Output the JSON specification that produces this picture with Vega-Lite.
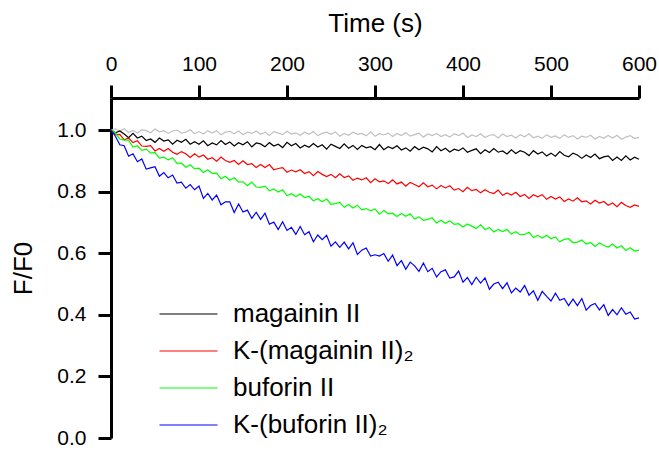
{
"$schema": "https://vega.github.io/schema/vega-lite/v6.json",
"width": 528, "height": 340,
"autosize": {"type": "none"},
"padding": {"left": 111, "top": 98, "right": 20, "bottom": 12},
"background": "white",
"config": {
  "view": {"stroke": null},
  "font": "Liberation Sans",
  "axis": {"grid": false, "domainColor": "black", "tickColor": "black", "labelColor": "black", "titleColor": "black", "labelFontSize": 21, "titleFontSize": 26, "titleFontWeight": "normal", "domainWidth": 3, "tickWidth": 3, "labelFont": "Liberation Sans", "titleFont": "Liberation Sans", "labelFlush": false}
},
"data": {"values": [
{"t":0,"s":"g","v":1.000},{"t":5,"s":"g","v":1.004},{"t":10,"s":"g","v":0.996},{"t":15,"s":"g","v":1.004},{"t":20,"s":"g","v":0.992},{"t":25,"s":"g","v":0.999},{"t":30,"s":"g","v":0.990},{"t":35,"s":"g","v":1.001},{"t":40,"s":"g","v":0.998},{"t":45,"s":"g","v":0.991},
{"t":50,"s":"g","v":1.003},{"t":55,"s":"g","v":0.994},{"t":60,"s":"g","v":0.998},{"t":65,"s":"g","v":0.989},{"t":70,"s":"g","v":0.997},{"t":75,"s":"g","v":1.000},{"t":80,"s":"g","v":0.990},{"t":85,"s":"g","v":0.993},{"t":90,"s":"g","v":1.001},{"t":95,"s":"g","v":0.988},
{"t":100,"s":"g","v":0.995},{"t":105,"s":"g","v":0.987},{"t":110,"s":"g","v":0.998},{"t":115,"s":"g","v":0.990},{"t":120,"s":"g","v":0.998},{"t":125,"s":"g","v":0.985},{"t":130,"s":"g","v":0.993},{"t":135,"s":"g","v":0.996},{"t":140,"s":"g","v":0.988},{"t":145,"s":"g","v":0.997},
{"t":150,"s":"g","v":0.985},{"t":155,"s":"g","v":0.993},{"t":160,"s":"g","v":0.989},{"t":165,"s":"g","v":0.997},{"t":170,"s":"g","v":0.986},{"t":175,"s":"g","v":0.993},{"t":180,"s":"g","v":0.982},{"t":185,"s":"g","v":0.995},{"t":190,"s":"g","v":0.990},{"t":195,"s":"g","v":0.985},
{"t":200,"s":"g","v":0.996},{"t":205,"s":"g","v":0.987},{"t":210,"s":"g","v":0.991},{"t":215,"s":"g","v":0.983},{"t":220,"s":"g","v":0.993},{"t":225,"s":"g","v":0.986},{"t":230,"s":"g","v":0.995},{"t":235,"s":"g","v":0.982},{"t":240,"s":"g","v":0.989},{"t":245,"s":"g","v":0.993},
{"t":250,"s":"g","v":0.986},{"t":255,"s":"g","v":0.994},{"t":260,"s":"g","v":0.980},{"t":265,"s":"g","v":0.989},{"t":270,"s":"g","v":0.983},{"t":275,"s":"g","v":0.993},{"t":280,"s":"g","v":0.986},{"t":285,"s":"g","v":0.989},{"t":290,"s":"g","v":0.981},{"t":295,"s":"g","v":0.994},
{"t":300,"s":"g","v":0.980},{"t":305,"s":"g","v":0.988},{"t":310,"s":"g","v":0.984},{"t":315,"s":"g","v":0.990},{"t":320,"s":"g","v":0.979},{"t":325,"s":"g","v":0.989},{"t":330,"s":"g","v":0.982},{"t":335,"s":"g","v":0.992},{"t":340,"s":"g","v":0.980},{"t":345,"s":"g","v":0.985},
{"t":350,"s":"g","v":0.990},{"t":355,"s":"g","v":0.977},{"t":360,"s":"g","v":0.987},{"t":365,"s":"g","v":0.982},{"t":370,"s":"g","v":0.989},{"t":375,"s":"g","v":0.979},{"t":380,"s":"g","v":0.985},{"t":385,"s":"g","v":0.977},{"t":390,"s":"g","v":0.988},{"t":395,"s":"g","v":0.982},
{"t":400,"s":"g","v":0.990},{"t":405,"s":"g","v":0.976},{"t":410,"s":"g","v":0.984},{"t":415,"s":"g","v":0.979},{"t":420,"s":"g","v":0.988},{"t":425,"s":"g","v":0.976},{"t":430,"s":"g","v":0.983},{"t":435,"s":"g","v":0.985},{"t":440,"s":"g","v":0.974},{"t":445,"s":"g","v":0.987},
{"t":450,"s":"g","v":0.979},{"t":455,"s":"g","v":0.983},{"t":460,"s":"g","v":0.974},{"t":465,"s":"g","v":0.985},{"t":470,"s":"g","v":0.978},{"t":475,"s":"g","v":0.988},{"t":480,"s":"g","v":0.975},{"t":485,"s":"g","v":0.980},{"t":490,"s":"g","v":0.973},{"t":495,"s":"g","v":0.985},
{"t":500,"s":"g","v":0.976},{"t":505,"s":"g","v":0.981},{"t":510,"s":"g","v":0.973},{"t":515,"s":"g","v":0.985},{"t":520,"s":"g","v":0.976},{"t":525,"s":"g","v":0.982},{"t":530,"s":"g","v":0.971},{"t":535,"s":"g","v":0.980},{"t":540,"s":"g","v":0.976},{"t":545,"s":"g","v":0.983},
{"t":550,"s":"g","v":0.971},{"t":555,"s":"g","v":0.979},{"t":560,"s":"g","v":0.973},{"t":565,"s":"g","v":0.982},{"t":570,"s":"g","v":0.974},{"t":575,"s":"g","v":0.983},{"t":580,"s":"g","v":0.970},{"t":585,"s":"g","v":0.977},{"t":590,"s":"g","v":0.982},{"t":595,"s":"g","v":0.973},
{"t":600,"s":"g","v":0.976},
{"t":0,"s":"m","v":1.000},{"t":5,"s":"m","v":0.991},{"t":10,"s":"m","v":0.997},{"t":15,"s":"m","v":0.987},{"t":20,"s":"m","v":0.975},{"t":25,"s":"m","v":0.989},{"t":30,"s":"m","v":0.974},{"t":35,"s":"m","v":0.980},{"t":40,"s":"m","v":0.966},{"t":45,"s":"m","v":0.971},
{"t":50,"s":"m","v":0.960},{"t":55,"s":"m","v":0.974},{"t":60,"s":"m","v":0.964},{"t":65,"s":"m","v":0.968},{"t":70,"s":"m","v":0.954},{"t":75,"s":"m","v":0.967},{"t":80,"s":"m","v":0.960},{"t":85,"s":"m","v":0.970},{"t":90,"s":"m","v":0.954},{"t":95,"s":"m","v":0.962},
{"t":100,"s":"m","v":0.954},{"t":105,"s":"m","v":0.965},{"t":110,"s":"m","v":0.949},{"t":115,"s":"m","v":0.958},{"t":120,"s":"m","v":0.952},{"t":125,"s":"m","v":0.966},{"t":130,"s":"m","v":0.953},{"t":135,"s":"m","v":0.961},{"t":140,"s":"m","v":0.948},{"t":145,"s":"m","v":0.959},
{"t":150,"s":"m","v":0.952},{"t":155,"s":"m","v":0.962},{"t":160,"s":"m","v":0.945},{"t":165,"s":"m","v":0.958},{"t":170,"s":"m","v":0.955},{"t":175,"s":"m","v":0.946},{"t":180,"s":"m","v":0.959},{"t":185,"s":"m","v":0.948},{"t":190,"s":"m","v":0.954},{"t":195,"s":"m","v":0.943},
{"t":200,"s":"m","v":0.960},{"t":205,"s":"m","v":0.949},{"t":210,"s":"m","v":0.956},{"t":215,"s":"m","v":0.942},{"t":220,"s":"m","v":0.951},{"t":225,"s":"m","v":0.944},{"t":230,"s":"m","v":0.956},{"t":235,"s":"m","v":0.945},{"t":240,"s":"m","v":0.952},{"t":245,"s":"m","v":0.938},
{"t":250,"s":"m","v":0.954},{"t":255,"s":"m","v":0.947},{"t":260,"s":"m","v":0.940},{"t":265,"s":"m","v":0.955},{"t":270,"s":"m","v":0.941},{"t":275,"s":"m","v":0.950},{"t":280,"s":"m","v":0.937},{"t":285,"s":"m","v":0.950},{"t":290,"s":"m","v":0.942},{"t":295,"s":"m","v":0.946},
{"t":300,"s":"m","v":0.936},{"t":305,"s":"m","v":0.953},{"t":310,"s":"m","v":0.936},{"t":315,"s":"m","v":0.946},{"t":320,"s":"m","v":0.940},{"t":325,"s":"m","v":0.949},{"t":330,"s":"m","v":0.935},{"t":335,"s":"m","v":0.942},{"t":340,"s":"m","v":0.931},{"t":345,"s":"m","v":0.946},
{"t":350,"s":"m","v":0.936},{"t":355,"s":"m","v":0.944},{"t":360,"s":"m","v":0.939},{"t":365,"s":"m","v":0.929},{"t":370,"s":"m","v":0.946},{"t":375,"s":"m","v":0.933},{"t":380,"s":"m","v":0.941},{"t":385,"s":"m","v":0.929},{"t":390,"s":"m","v":0.938},{"t":395,"s":"m","v":0.933},
{"t":400,"s":"m","v":0.942},{"t":405,"s":"m","v":0.928},{"t":410,"s":"m","v":0.934},{"t":415,"s":"m","v":0.939},{"t":420,"s":"m","v":0.923},{"t":425,"s":"m","v":0.936},{"t":430,"s":"m","v":0.927},{"t":435,"s":"m","v":0.940},{"t":440,"s":"m","v":0.928},{"t":445,"s":"m","v":0.932},
{"t":450,"s":"m","v":0.922},{"t":455,"s":"m","v":0.936},{"t":460,"s":"m","v":0.924},{"t":465,"s":"m","v":0.933},{"t":470,"s":"m","v":0.928},{"t":475,"s":"m","v":0.917},{"t":480,"s":"m","v":0.933},{"t":485,"s":"m","v":0.922},{"t":490,"s":"m","v":0.929},{"t":495,"s":"m","v":0.916},
{"t":500,"s":"m","v":0.925},{"t":505,"s":"m","v":0.915},{"t":510,"s":"m","v":0.930},{"t":515,"s":"m","v":0.918},{"t":520,"s":"m","v":0.913},{"t":525,"s":"m","v":0.925},{"t":530,"s":"m","v":0.919},{"t":535,"s":"m","v":0.908},{"t":540,"s":"m","v":0.919},{"t":545,"s":"m","v":0.911},
{"t":550,"s":"m","v":0.922},{"t":555,"s":"m","v":0.907},{"t":560,"s":"m","v":0.913},{"t":565,"s":"m","v":0.916},{"t":570,"s":"m","v":0.901},{"t":575,"s":"m","v":0.912},{"t":580,"s":"m","v":0.901},{"t":585,"s":"m","v":0.916},{"t":590,"s":"m","v":0.903},{"t":595,"s":"m","v":0.912},
{"t":600,"s":"m","v":0.905},
{"t":0,"s":"km","v":1.000},{"t":5,"s":"km","v":0.985},{"t":10,"s":"km","v":0.986},{"t":15,"s":"km","v":0.968},{"t":20,"s":"km","v":0.974},{"t":25,"s":"km","v":0.959},{"t":30,"s":"km","v":0.965},{"t":35,"s":"km","v":0.948},{"t":40,"s":"km","v":0.947},{"t":45,"s":"km","v":0.949},
{"t":50,"s":"km","v":0.932},{"t":55,"s":"km","v":0.940},{"t":60,"s":"km","v":0.931},{"t":65,"s":"km","v":0.940},{"t":70,"s":"km","v":0.928},{"t":75,"s":"km","v":0.921},{"t":80,"s":"km","v":0.930},{"t":85,"s":"km","v":0.923},{"t":90,"s":"km","v":0.911},{"t":95,"s":"km","v":0.923},
{"t":100,"s":"km","v":0.912},{"t":105,"s":"km","v":0.919},{"t":110,"s":"km","v":0.905},{"t":115,"s":"km","v":0.910},{"t":120,"s":"km","v":0.899},{"t":125,"s":"km","v":0.912},{"t":130,"s":"km","v":0.901},{"t":135,"s":"km","v":0.895},{"t":140,"s":"km","v":0.901},{"t":145,"s":"km","v":0.888},
{"t":150,"s":"km","v":0.900},{"t":155,"s":"km","v":0.888},{"t":160,"s":"km","v":0.891},{"t":165,"s":"km","v":0.878},{"t":170,"s":"km","v":0.888},{"t":175,"s":"km","v":0.878},{"t":180,"s":"km","v":0.888},{"t":185,"s":"km","v":0.871},{"t":190,"s":"km","v":0.875},{"t":195,"s":"km","v":0.878},
{"t":200,"s":"km","v":0.863},{"t":205,"s":"km","v":0.870},{"t":210,"s":"km","v":0.864},{"t":215,"s":"km","v":0.871},{"t":220,"s":"km","v":0.859},{"t":225,"s":"km","v":0.865},{"t":230,"s":"km","v":0.852},{"t":235,"s":"km","v":0.865},{"t":240,"s":"km","v":0.856},{"t":245,"s":"km","v":0.849},
{"t":250,"s":"km","v":0.856},{"t":255,"s":"km","v":0.845},{"t":260,"s":"km","v":0.858},{"t":265,"s":"km","v":0.846},{"t":270,"s":"km","v":0.851},{"t":275,"s":"km","v":0.837},{"t":280,"s":"km","v":0.844},{"t":285,"s":"km","v":0.838},{"t":290,"s":"km","v":0.845},{"t":295,"s":"km","v":0.829},
{"t":300,"s":"km","v":0.842},{"t":305,"s":"km","v":0.832},{"t":310,"s":"km","v":0.835},{"t":315,"s":"km","v":0.826},{"t":320,"s":"km","v":0.838},{"t":325,"s":"km","v":0.825},{"t":330,"s":"km","v":0.831},{"t":335,"s":"km","v":0.818},{"t":340,"s":"km","v":0.830},{"t":345,"s":"km","v":0.823},
{"t":350,"s":"km","v":0.816},{"t":355,"s":"km","v":0.829},{"t":360,"s":"km","v":0.816},{"t":365,"s":"km","v":0.821},{"t":370,"s":"km","v":0.809},{"t":375,"s":"km","v":0.820},{"t":380,"s":"km","v":0.812},{"t":385,"s":"km","v":0.819},{"t":390,"s":"km","v":0.805},{"t":395,"s":"km","v":0.810},
{"t":400,"s":"km","v":0.800},{"t":405,"s":"km","v":0.814},{"t":410,"s":"km","v":0.803},{"t":415,"s":"km","v":0.807},{"t":420,"s":"km","v":0.796},{"t":425,"s":"km","v":0.806},{"t":430,"s":"km","v":0.798},{"t":435,"s":"km","v":0.794},{"t":440,"s":"km","v":0.805},{"t":445,"s":"km","v":0.788},
{"t":450,"s":"km","v":0.796},{"t":455,"s":"km","v":0.789},{"t":460,"s":"km","v":0.798},{"t":465,"s":"km","v":0.784},{"t":470,"s":"km","v":0.791},{"t":475,"s":"km","v":0.778},{"t":480,"s":"km","v":0.790},{"t":485,"s":"km","v":0.783},{"t":490,"s":"km","v":0.790},{"t":495,"s":"km","v":0.775},
{"t":500,"s":"km","v":0.784},{"t":505,"s":"km","v":0.776},{"t":510,"s":"km","v":0.783},{"t":515,"s":"km","v":0.768},{"t":520,"s":"km","v":0.776},{"t":525,"s":"km","v":0.769},{"t":530,"s":"km","v":0.780},{"t":535,"s":"km","v":0.767},{"t":540,"s":"km","v":0.770},{"t":545,"s":"km","v":0.760},
{"t":550,"s":"km","v":0.772},{"t":555,"s":"km","v":0.763},{"t":560,"s":"km","v":0.768},{"t":565,"s":"km","v":0.756},{"t":570,"s":"km","v":0.763},{"t":575,"s":"km","v":0.751},{"t":580,"s":"km","v":0.765},{"t":585,"s":"km","v":0.755},{"t":590,"s":"km","v":0.749},{"t":595,"s":"km","v":0.757},
{"t":600,"s":"km","v":0.752},
{"t":0,"s":"b","v":1.000},{"t":5,"s":"b","v":0.991},{"t":10,"s":"b","v":0.971},{"t":15,"s":"b","v":0.967},{"t":20,"s":"b","v":0.967},{"t":25,"s":"b","v":0.945},{"t":30,"s":"b","v":0.949},{"t":35,"s":"b","v":0.934},{"t":40,"s":"b","v":0.938},{"t":45,"s":"b","v":0.925},
{"t":50,"s":"b","v":0.927},{"t":55,"s":"b","v":0.909},{"t":60,"s":"b","v":0.912},{"t":65,"s":"b","v":0.903},{"t":70,"s":"b","v":0.910},{"t":75,"s":"b","v":0.892},{"t":80,"s":"b","v":0.893},{"t":85,"s":"b","v":0.879},{"t":90,"s":"b","v":0.887},{"t":95,"s":"b","v":0.874},
{"t":100,"s":"b","v":0.876},{"t":105,"s":"b","v":0.862},{"t":110,"s":"b","v":0.871},{"t":115,"s":"b","v":0.859},{"t":120,"s":"b","v":0.860},{"t":125,"s":"b","v":0.842},{"t":130,"s":"b","v":0.850},{"t":135,"s":"b","v":0.837},{"t":140,"s":"b","v":0.845},{"t":145,"s":"b","v":0.831},
{"t":150,"s":"b","v":0.832},{"t":155,"s":"b","v":0.819},{"t":160,"s":"b","v":0.831},{"t":165,"s":"b","v":0.815},{"t":170,"s":"b","v":0.814},{"t":175,"s":"b","v":0.818},{"t":180,"s":"b","v":0.803},{"t":185,"s":"b","v":0.809},{"t":190,"s":"b","v":0.799},{"t":195,"s":"b","v":0.806},
{"t":200,"s":"b","v":0.787},{"t":205,"s":"b","v":0.793},{"t":210,"s":"b","v":0.784},{"t":215,"s":"b","v":0.792},{"t":220,"s":"b","v":0.781},{"t":225,"s":"b","v":0.785},{"t":230,"s":"b","v":0.770},{"t":235,"s":"b","v":0.777},{"t":240,"s":"b","v":0.767},{"t":245,"s":"b","v":0.776},
{"t":250,"s":"b","v":0.759},{"t":255,"s":"b","v":0.761},{"t":260,"s":"b","v":0.765},{"t":265,"s":"b","v":0.749},{"t":270,"s":"b","v":0.758},{"t":275,"s":"b","v":0.747},{"t":280,"s":"b","v":0.756},{"t":285,"s":"b","v":0.741},{"t":290,"s":"b","v":0.745},{"t":295,"s":"b","v":0.738},
{"t":300,"s":"b","v":0.744},{"t":305,"s":"b","v":0.727},{"t":310,"s":"b","v":0.739},{"t":315,"s":"b","v":0.728},{"t":320,"s":"b","v":0.730},{"t":325,"s":"b","v":0.719},{"t":330,"s":"b","v":0.729},{"t":335,"s":"b","v":0.720},{"t":340,"s":"b","v":0.728},{"t":345,"s":"b","v":0.711},
{"t":350,"s":"b","v":0.718},{"t":355,"s":"b","v":0.707},{"t":360,"s":"b","v":0.710},{"t":365,"s":"b","v":0.715},{"t":370,"s":"b","v":0.698},{"t":375,"s":"b","v":0.707},{"t":380,"s":"b","v":0.697},{"t":385,"s":"b","v":0.705},{"t":390,"s":"b","v":0.694},{"t":395,"s":"b","v":0.696},
{"t":400,"s":"b","v":0.685},{"t":405,"s":"b","v":0.695},{"t":410,"s":"b","v":0.688},{"t":415,"s":"b","v":0.680},{"t":420,"s":"b","v":0.692},{"t":425,"s":"b","v":0.677},{"t":430,"s":"b","v":0.683},{"t":435,"s":"b","v":0.669},{"t":440,"s":"b","v":0.677},{"t":445,"s":"b","v":0.670},
{"t":450,"s":"b","v":0.677},{"t":455,"s":"b","v":0.662},{"t":460,"s":"b","v":0.670},{"t":465,"s":"b","v":0.660},{"t":470,"s":"b","v":0.661},{"t":475,"s":"b","v":0.668},{"t":480,"s":"b","v":0.651},{"t":485,"s":"b","v":0.658},{"t":490,"s":"b","v":0.649},{"t":495,"s":"b","v":0.658},
{"t":500,"s":"b","v":0.647},{"t":505,"s":"b","v":0.653},{"t":510,"s":"b","v":0.637},{"t":515,"s":"b","v":0.645},{"t":520,"s":"b","v":0.647},{"t":525,"s":"b","v":0.634},{"t":530,"s":"b","v":0.636},{"t":535,"s":"b","v":0.643},{"t":540,"s":"b","v":0.630},{"t":545,"s":"b","v":0.635},
{"t":550,"s":"b","v":0.622},{"t":555,"s":"b","v":0.633},{"t":560,"s":"b","v":0.625},{"t":565,"s":"b","v":0.620},{"t":570,"s":"b","v":0.630},{"t":575,"s":"b","v":0.617},{"t":580,"s":"b","v":0.624},{"t":585,"s":"b","v":0.609},{"t":590,"s":"b","v":0.618},{"t":595,"s":"b","v":0.607},
{"t":600,"s":"b","v":0.610},
{"t":0,"s":"kb","v":1.000},{"t":5,"s":"kb","v":0.980},{"t":10,"s":"kb","v":0.952},{"t":15,"s":"kb","v":0.949},{"t":20,"s":"kb","v":0.915},{"t":25,"s":"kb","v":0.923},{"t":30,"s":"kb","v":0.897},{"t":35,"s":"kb","v":0.906},{"t":40,"s":"kb","v":0.873},{"t":45,"s":"kb","v":0.877},
{"t":50,"s":"kb","v":0.881},{"t":55,"s":"kb","v":0.850},{"t":60,"s":"kb","v":0.862},{"t":65,"s":"kb","v":0.845},{"t":70,"s":"kb","v":0.854},{"t":75,"s":"kb","v":0.828},{"t":80,"s":"kb","v":0.831},{"t":85,"s":"kb","v":0.811},{"t":90,"s":"kb","v":0.823},{"t":95,"s":"kb","v":0.806},
{"t":100,"s":"kb","v":0.818},{"t":105,"s":"kb","v":0.778},{"t":110,"s":"kb","v":0.794},{"t":115,"s":"kb","v":0.773},{"t":120,"s":"kb","v":0.789},{"t":125,"s":"kb","v":0.757},{"t":130,"s":"kb","v":0.767},{"t":135,"s":"kb","v":0.767},{"t":140,"s":"kb","v":0.732},{"t":145,"s":"kb","v":0.760},
{"t":150,"s":"kb","v":0.734},{"t":155,"s":"kb","v":0.740},{"t":160,"s":"kb","v":0.713},{"t":165,"s":"kb","v":0.733},{"t":170,"s":"kb","v":0.710},{"t":175,"s":"kb","v":0.730},{"t":180,"s":"kb","v":0.694},{"t":185,"s":"kb","v":0.701},{"t":190,"s":"kb","v":0.677},{"t":195,"s":"kb","v":0.702},
{"t":200,"s":"kb","v":0.674},{"t":205,"s":"kb","v":0.684},{"t":210,"s":"kb","v":0.661},{"t":215,"s":"kb","v":0.687},{"t":220,"s":"kb","v":0.660},{"t":225,"s":"kb","v":0.670},{"t":230,"s":"kb","v":0.637},{"t":235,"s":"kb","v":0.659},{"t":240,"s":"kb","v":0.644},{"t":245,"s":"kb","v":0.658},
{"t":250,"s":"kb","v":0.623},{"t":255,"s":"kb","v":0.637},{"t":260,"s":"kb","v":0.619},{"t":265,"s":"kb","v":0.636},{"t":270,"s":"kb","v":0.614},{"t":275,"s":"kb","v":0.634},{"t":280,"s":"kb","v":0.596},{"t":285,"s":"kb","v":0.610},{"t":290,"s":"kb","v":0.617},{"t":295,"s":"kb","v":0.591},
{"t":300,"s":"kb","v":0.595},{"t":305,"s":"kb","v":0.591},{"t":310,"s":"kb","v":0.599},{"t":315,"s":"kb","v":0.574},{"t":320,"s":"kb","v":0.594},{"t":325,"s":"kb","v":0.560},{"t":330,"s":"kb","v":0.576},{"t":335,"s":"kb","v":0.548},{"t":340,"s":"kb","v":0.571},{"t":345,"s":"kb","v":0.559},
{"t":350,"s":"kb","v":0.541},{"t":355,"s":"kb","v":0.568},{"t":360,"s":"kb","v":0.540},{"t":365,"s":"kb","v":0.551},{"t":370,"s":"kb","v":0.523},{"t":375,"s":"kb","v":0.540},{"t":380,"s":"kb","v":0.546},{"t":385,"s":"kb","v":0.519},{"t":390,"s":"kb","v":0.523},{"t":395,"s":"kb","v":0.542},
{"t":400,"s":"kb","v":0.506},{"t":405,"s":"kb","v":0.521},{"t":410,"s":"kb","v":0.498},{"t":415,"s":"kb","v":0.522},{"t":420,"s":"kb","v":0.503},{"t":425,"s":"kb","v":0.520},{"t":430,"s":"kb","v":0.483},{"t":435,"s":"kb","v":0.500},{"t":440,"s":"kb","v":0.506},{"t":445,"s":"kb","v":0.485},
{"t":450,"s":"kb","v":0.504},{"t":455,"s":"kb","v":0.471},{"t":460,"s":"kb","v":0.487},{"t":465,"s":"kb","v":0.474},{"t":470,"s":"kb","v":0.495},{"t":475,"s":"kb","v":0.464},{"t":480,"s":"kb","v":0.478},{"t":485,"s":"kb","v":0.447},{"t":490,"s":"kb","v":0.476},{"t":495,"s":"kb","v":0.460},
{"t":500,"s":"kb","v":0.445},{"t":505,"s":"kb","v":0.470},{"t":510,"s":"kb","v":0.447},{"t":515,"s":"kb","v":0.453},{"t":520,"s":"kb","v":0.430},{"t":525,"s":"kb","v":0.451},{"t":530,"s":"kb","v":0.430},{"t":535,"s":"kb","v":0.453},{"t":540,"s":"kb","v":0.415},{"t":545,"s":"kb","v":0.430},
{"t":550,"s":"kb","v":0.437},{"t":555,"s":"kb","v":0.416},{"t":560,"s":"kb","v":0.433},{"t":565,"s":"kb","v":0.398},{"t":570,"s":"kb","v":0.417},{"t":575,"s":"kb","v":0.400},{"t":580,"s":"kb","v":0.423},{"t":585,"s":"kb","v":0.402},{"t":590,"s":"kb","v":0.409},{"t":595,"s":"kb","v":0.386},
{"t":600,"s":"kb","v":0.390}
]},
"layer": [
  {
    "transform": [{"filter": "datum.s === 'g'"}],
    "mark": {"type": "line", "strokeWidth": 1.2, "color": "#c0c0c0"},
    "encoding": {
      "x": {"field": "t", "type": "quantitative", "scale": {"domain": [0, 600], "nice": false}, "axis": {"orient": "top", "title": "Time (s)", "values": [0, 100, 200, 300, 400, 500, 600], "tickSize": 13, "labelPadding": 11, "titlePadding": 17}},
      "y": {"field": "v", "type": "quantitative", "scale": {"domain": [0, 1.104], "nice": false, "zero": false}, "axis": {"title": "F/F0", "values": [0, 0.2, 0.4, 0.6, 0.8, 1.0], "format": ".1f", "tickSize": 13, "labelPadding": 12, "titlePadding": 20}}
    }
  },
  {
    "transform": [{"filter": "datum.s !== 'g'"}],
    "mark": {"type": "line", "strokeWidth": 1.2},
    "encoding": {
      "x": {"field": "t", "type": "quantitative"},
      "y": {"field": "v", "type": "quantitative"},
      "color": {
        "field": "s", "type": "nominal",
        "scale": {"domain": ["m", "km", "b", "kb"], "range": ["#000000", "#ff0000", "#00ff00", "#0000ff"]},
        "legend": {
          "title": null, "orient": "none", "legendX": 48, "legendY": 198,
          "symbolType": "stroke", "symbolSize": 3364, "symbolStrokeWidth": 1,
          "labelFontSize": 26, "labelFont": "Liberation Sans", "labelColor": "black", "labelOffset": 15, "labelLimit": 400,
          "clipHeight": 36, "rowPadding": 1, "padding": 0,
          "labelExpr": "datum.label === 'm' ? 'magainin II' : datum.label === 'km' ? 'K-(magainin II)₂' : datum.label === 'b' ? 'buforin II' : 'K-(buforin II)₂'"
        }
      }
    }
  }
]
}
